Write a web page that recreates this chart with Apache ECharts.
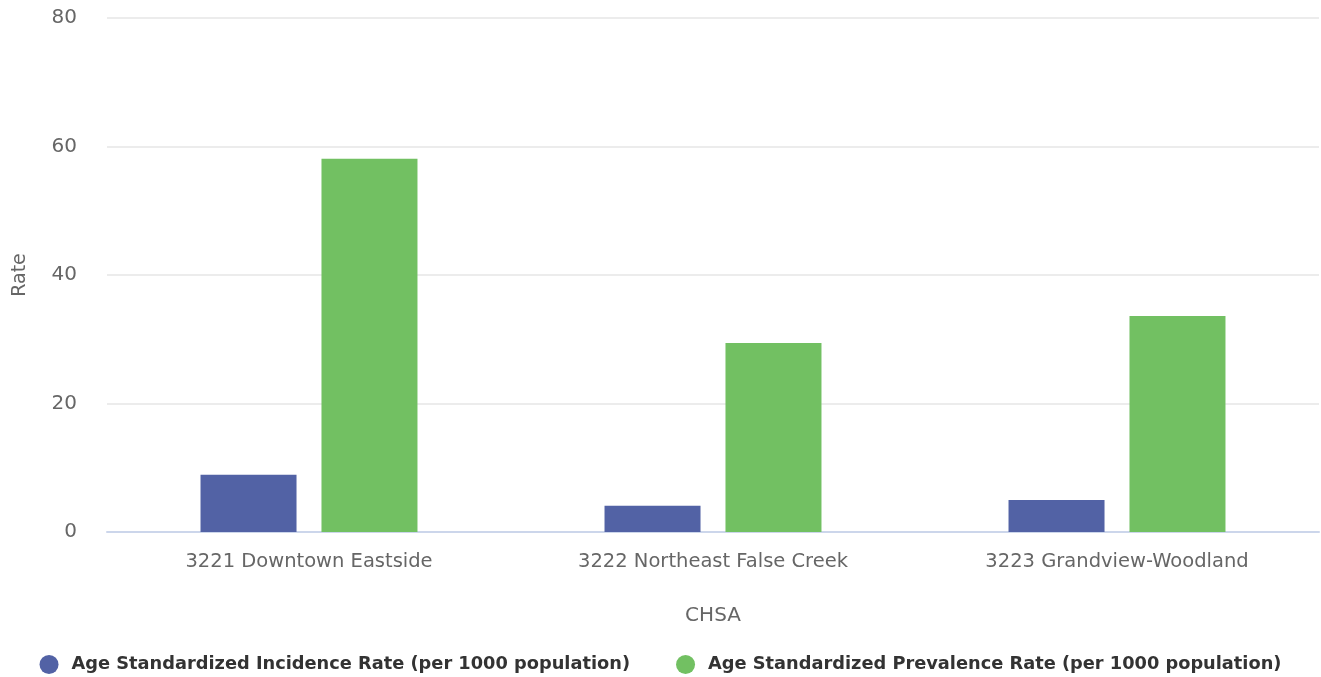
<!DOCTYPE html>
<html>
<head>
<meta charset="utf-8">
<script src="https://cdn.jsdelivr.net/npm/echarts@6/dist/echarts.min.js"></script>
<style>
  html, body { margin: 0; padding: 0; background: #fff; }
  #main { width: 1321px; height: 677px; }
</style>
</head>
<body>
<div id="main"></div>
<script>
// data
var categories = ['3221 Downtown Eastside', '3222 Northeast False Creek', '3223 Grandview-Woodland'];
var incidence = [8.9, 4.1, 5.0];
var prevalence = [58.1, 29.4, 33.6];
var yTicks = [0, 20, 40, 60, 80];

var chart = echarts.init(document.getElementById('main'), null, { renderer: 'canvas' });

var font = 'DejaVu Sans';

var option = {
  animation: false,
  color: ['#5262a5', '#72c062'],
  grid: {
    left: 107,
    right: 2,
    top: 18,
    bottom: 145
  },
  legend: {
    top: 650,
    left: 'center',
    icon: 'circle',
    itemWidth: 19,
    itemHeight: 19,
    itemGap: 46,
    textStyle: { fontFamily: font, fontSize: 17.8, color: '#333', fontWeight: 'bold', padding: [0, 0, 0, 8] },
    data: ['Age Standardized Incidence Rate (per 1000 population)', 'Age Standardized Prevalence Rate (per 1000 population)']
  },
  xAxis: {
    type: 'category',
    data: categories,
    name: 'CHSA',
    nameLocation: 'middle',
    nameGap: 74,
    nameTextStyle: { fontFamily: font, fontSize: 20, color: '#666' },
    axisLine: { lineStyle: { color: '#ccd6eb', width: 2 } },
    axisTick: { show: false },
    axisLabel: { fontFamily: font, fontSize: 19.5, color: '#666', margin: 20 }
  },
  yAxis: {
    type: 'value',
    min: 0,
    max: 80,
    interval: 20,
    name: 'Rate',
    nameLocation: 'middle',
    nameGap: 77,
    nameTextStyle: { fontFamily: font, fontSize: 19, color: '#666' },
    axisLine: { show: false },
    axisTick: { show: false },
    splitLine: { lineStyle: { color: '#e6e6e6', width: 1.5 } },
    axisLabel: {
      fontFamily: font, fontSize: 20, color: '#666', margin: 30,
      formatter: function (v) { return yTicks.indexOf(v) >= 0 ? String(v) : ''; }
    }
  },
  series: [
    {
      name: 'Age Standardized Incidence Rate (per 1000 population)',
      type: 'bar',
      data: incidence,
      barWidth: 96,
      barGap: '26%'
    },
    {
      name: 'Age Standardized Prevalence Rate (per 1000 population)',
      type: 'bar',
      data: prevalence,
      barWidth: 96,
      barGap: '26%'
    }
  ]
};

chart.setOption(option);
</script>
</body>
</html>
